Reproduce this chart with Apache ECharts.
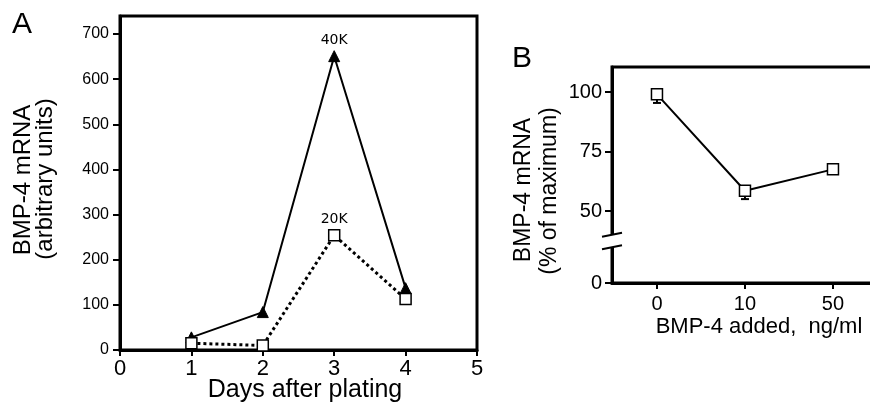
<!DOCTYPE html>
<html>
<head>
<meta charset="utf-8">
<script src="https://cdn.jsdelivr.net/npm/echarts@6/dist/echarts.min.js"></script>
<style>html,body{margin:0;padding:0;background:#fff;}#c{width:870px;height:402px;}</style>
</head>
<body>
<div id="c"></div>
<script>
// Panel A data
const days = [1, 2, 3, 4];
const mrna40K = [28, 84, 651, 137];
const mrna20K = [15, 10, 254, 113];
const seriesNamesA = ['40K', '20K'];
const yTicksA = [0, 100, 200, 300, 400, 500, 600, 700];
const xTicksA = [0, 1, 2, 3, 4, 5];
// Panel B data
const doses = ['0', '10', '50'];
const pctMax = [99, 58.5, 67.5];
const pctErrLow = [95.4, 55, null];
const yTicksB = [0, 50, 75, 100];
// axis coordinate standing for "0" below the axis break, and break span
const breakFloorB = 19.75;
const breakMarksB = [40, 34.8];

const FONT = '"Liberation Sans", Arial, sans-serif';
const chart = echarts.init(document.getElementById('c'));

const toAxisB = v => (v === 0 ? breakFloorB : v);
const axisLineStyle = { onZero: false, lineStyle: { color: '#000', width: 3 } };
const tickStyle = { color: '#000', width: 2 };

const data40K = days.map((d, i) => {
  const item = { value: [d, mrna40K[i]] };
  if (mrna40K[i] === Math.max(...mrna40K)) item.label = { show: true, formatter: seriesNamesA[0] };
  return item;
});
const data20K = days.map((d, i) => {
  const item = { value: [d, mrna20K[i]] };
  if (mrna20K[i] === Math.max(...mrna20K)) item.label = { show: true, formatter: seriesNamesA[1] };
  return item;
});
const dataB = doses.map((d, i) => [i, pctMax[i]]);
const errB = [];
doses.forEach((d, i) => { if (pctErrLow[i] != null) errB.push([i, pctMax[i], pctErrLow[i]]); });

const option = {
  animation: false,
  textStyle: { fontFamily: FONT, color: '#000' },
  grid: [
    { left: 120, top: 16, width: 357, height: 334, show: true, borderColor: '#000', borderWidth: 3, outerBoundsMode: 'none', containLabel: false },
    { left: 612, top: 67, width: 278, height: 216, show: true, borderColor: '#000', borderWidth: 3, outerBoundsMode: 'none', containLabel: false }
  ],
  xAxis: [
    {
      gridIndex: 0, type: 'value', min: 0, max: 5, interval: 1,
      axisLine: axisLineStyle,
      axisTick: { length: 6, lineStyle: tickStyle, customValues: xTicksA },
      axisLabel: { fontSize: 22, color: '#000', margin: 8, fontFamily: FONT, customValues: xTicksA },
      splitLine: { show: false }
    },
    {
      gridIndex: 1, type: 'value', min: -0.511, max: 2.648,
      axisLine: axisLineStyle,
      axisTick: { length: 6, lineStyle: tickStyle, customValues: doses.map((d, i) => i) },
      axisLabel: { fontSize: 20, color: '#000', margin: 11, fontFamily: FONT,
        customValues: doses.map((d, i) => i), formatter: v => doses[Math.round(v)] },
      splitLine: { show: false }
    }
  ],
  yAxis: [
    {
      gridIndex: 0, type: 'value', min: 0, max: 740,
      axisLine: axisLineStyle,
      axisTick: { length: 7, lineStyle: tickStyle, customValues: yTicksA },
      axisLabel: { fontSize: 16, color: '#000', margin: 11, fontFamily: FONT, customValues: yTicksA },
      splitLine: { show: false }
    },
    {
      gridIndex: 1, type: 'value', min: breakFloorB, max: 110.5,
      axisLine: axisLineStyle,
      axisTick: { length: 7, lineStyle: tickStyle, customValues: yTicksB.map(toAxisB) },
      axisLabel: { fontSize: 20, color: '#000', margin: 10, fontFamily: FONT,
        customValues: yTicksB.map(toAxisB), formatter: v => (v === breakFloorB ? '0' : String(v)) },
      splitLine: { show: false }
    }
  ],
  series: [
    {
      type: 'line', xAxisIndex: 0, yAxisIndex: 0, data: data40K, z: 3,
      symbol: 'triangle', symbolSize: 11,
      lineStyle: { color: '#000', width: 2 },
      itemStyle: { color: '#000', borderColor: '#000', borderWidth: 1 },
      label: { show: false, position: 'top', distance: 3, fontSize: 14, color: '#000', fontFamily: 'DejaVu Sans' }
    },
    {
      type: 'line', xAxisIndex: 0, yAxisIndex: 0, data: data20K, z: 4,
      symbol: 'rect', symbolSize: 11,
      lineStyle: { color: '#000', width: 3, type: [3, 3] },
      itemStyle: { color: '#fff', borderColor: '#000', borderWidth: 1.5 },
      label: { show: false, position: 'top', distance: 3, fontSize: 14, color: '#000', fontFamily: 'DejaVu Sans' }
    },
    {
      type: 'custom', xAxisIndex: 1, yAxisIndex: 1, data: errB, z: 2,
      renderItem: (params, api) => {
        const x = api.value(0), m = api.value(1), lo = api.value(2);
        const p1 = api.coord([x, m]), p2 = api.coord([x, lo]);
        return { type: 'group', children: [
          { type: 'line', shape: { x1: p1[0], y1: p1[1], x2: p2[0], y2: p2[1] }, style: { stroke: '#000', lineWidth: 2 } },
          { type: 'line', shape: { x1: p2[0] - 4, y1: p2[1], x2: p2[0] + 4, y2: p2[1] }, style: { stroke: '#000', lineWidth: 2 } }
        ]};
      }
    },
    {
      type: 'line', xAxisIndex: 1, yAxisIndex: 1, data: dataB, z: 3,
      symbol: 'rect', symbolSize: 11,
      lineStyle: { color: '#000', width: 2 },
      itemStyle: { color: '#fff', borderColor: '#000', borderWidth: 1.5 }
    }
  ]
};
chart.setOption(option);

// Axis break marks on panel B's y axis, positioned through the axis scale
const finderB = { xAxisIndex: 1, yAxisIndex: 1 };
const pUp = chart.convertToPixel(finderB, [-0.511, breakMarksB[0]]);
const pLo = chart.convertToPixel(finderB, [-0.511, breakMarksB[1]]);
const ax = pUp[0];

chart.setOption({
  graphic: [
    { type: 'text', x: 22, y: 25, style: { text: 'A', font: '30px ' + FONT, fill: '#000', align: 'center', verticalAlign: 'middle' } },
    { type: 'text', x: 522, y: 59, style: { text: 'B', font: '30px ' + FONT, fill: '#000', align: 'center', verticalAlign: 'middle' } },
    { type: 'text', x: 23, y: 180, rotation: Math.PI / 2, style: { text: 'BMP-4 mRNA', font: '24px ' + FONT, fill: '#000', align: 'center', verticalAlign: 'middle' } },
    { type: 'text', x: 45, y: 179, rotation: Math.PI / 2, style: { text: '(arbitrary units)', font: '24px ' + FONT, fill: '#000', align: 'center', verticalAlign: 'middle' } },
    { type: 'text', x: 305, y: 390, style: { text: 'Days after plating', font: '25px ' + FONT, fill: '#000', align: 'center', verticalAlign: 'middle' } },
    { type: 'text', x: 524, y: 190, rotation: Math.PI / 2, style: { text: 'BMP-4 mRNA', font: '23px ' + FONT, fill: '#000', align: 'center', verticalAlign: 'middle' } },
    { type: 'text', x: 550, y: 191, rotation: Math.PI / 2, style: { text: '(% of maximum)', font: '23px ' + FONT, fill: '#000', align: 'center', verticalAlign: 'middle' } },
    { type: 'text', x: 759, y: 327, style: { text: 'BMP-4 added,  ng/ml', font: '22px ' + FONT, fill: '#000', align: 'center', verticalAlign: 'middle' } },
    { type: 'rect', z: 100, shape: { x: ax - 5, y: pUp[1], width: 10, height: pLo[1] - pUp[1] }, style: { fill: '#fff' } },
    { type: 'line', z: 101, shape: { x1: ax - 10, y1: pUp[1] + 2, x2: ax + 10, y2: pUp[1] - 2 }, style: { stroke: '#000', lineWidth: 2 } },
    { type: 'line', z: 101, shape: { x1: ax - 10, y1: pLo[1] + 2, x2: ax + 10, y2: pLo[1] - 2 }, style: { stroke: '#000', lineWidth: 2 } }
  ]
});
</script>
</body>
</html>
